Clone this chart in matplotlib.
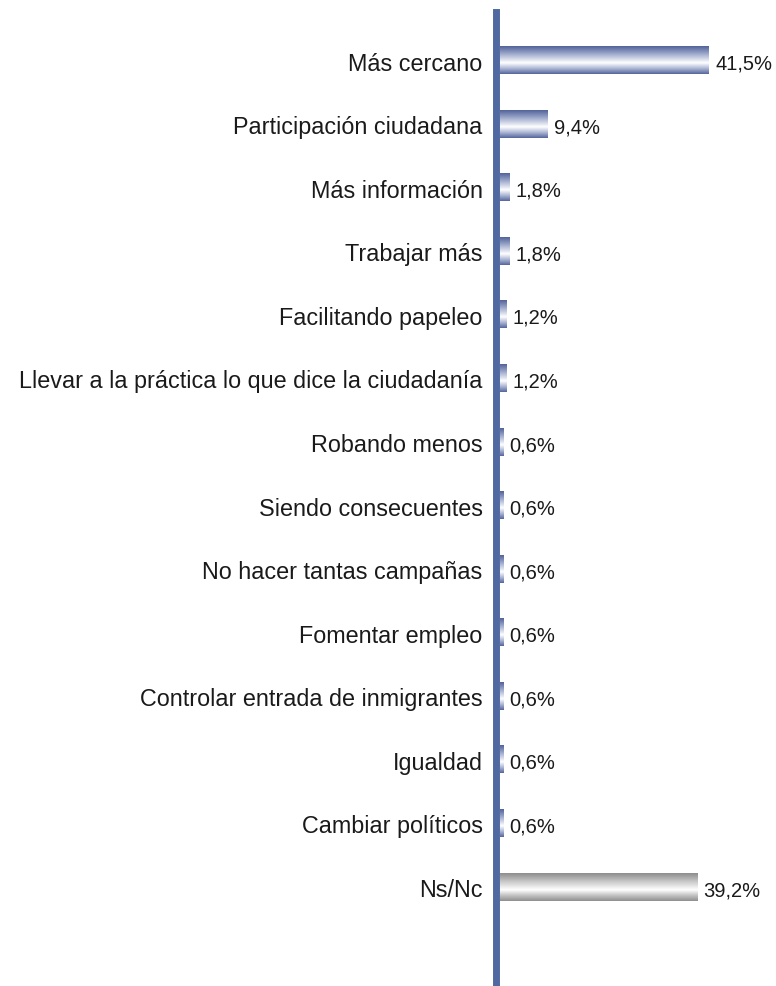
import matplotlib.pyplot as plt
import matplotlib.colors as mcolors
import numpy as np

plt.rcParams['font.family'] = ['Liberation Sans', 'DejaVu Sans']

# Chart data
categories = [
    "Más cercano",
    "Participación ciudadana",
    "Más información",
    "Trabajar más",
    "Facilitando papeleo",
    "Llevar a la práctica lo que dice la ciudadanía",
    "Robando menos",
    "Siendo consecuentes",
    "No hacer tantas campañas",
    "Fomentar empleo",
    "Controlar entrada de inmigrantes",
    "Igualdad",
    "Cambiar políticos",
    "Ns/Nc",
]
values = [41.5, 9.4, 1.8, 1.8, 1.2, 1.2, 0.6, 0.6, 0.6, 0.6, 0.6, 0.6, 0.6, 39.2]
value_labels = ["41,5%", "9,4%", "1,8%", "1,8%", "1,2%", "1,2%", "0,6%", "0,6%",
                "0,6%", "0,6%", "0,6%", "0,6%", "0,6%", "39,2%"]

W, H = 776, 987
fig = plt.figure(figsize=(W / 100, H / 100), dpi=100)

# axes: left edge on the vertical axis line, running down to the bottom
ax_left = 496.5
ax = fig.add_axes([ax_left / W, 0, 1 - ax_left / W, 1 - 12.7 / H])

y = np.arange(len(categories))
bars = ax.barh(y, values, height=0.425, color="none", edgecolor="none")

# gradient colormaps: dark edges, light band just below the middle
blue_cmap = mcolors.LinearSegmentedColormap.from_list(
    "blue_grad", [(0, "#53649a"), (0.3, "#a5b0d0"), (0.6, "#ffffff"),
                  (0.8, "#aeb8d6"), (1, "#56679c")])
gray_cmap = mcolors.LinearSegmentedColormap.from_list(
    "gray_grad", [(0, "#8e8e8e"), (0.3, "#c8c8c8"), (0.6, "#ffffff"),
                  (0.8, "#c4c4c4"), (1, "#909090")])
grad = np.linspace(0, 1, 64).reshape(-1, 1)

for i, bar in enumerate(bars):
    x0, yb = bar.get_x(), bar.get_y()
    w, h = bar.get_width(), bar.get_height()
    cmap = gray_cmap if categories[i] == "Ns/Nc" else blue_cmap
    ax.imshow(grad, aspect="auto", cmap=cmap, origin="upper",
              extent=(x0, x0 + w, yb + h, yb), zorder=4, interpolation="bilinear")
    ax.text(w + 1.3, y[i] + 0.04, value_labels[i], va="center", ha="left",
            fontsize=14.5, color="#1a1a1a")

ax.set_xlim(-0.693, 54.9)
ax.set_ylim(14.556, -0.768)

ax.set_yticks(y)
ax.set_yticklabels(categories, fontsize=16.8, color="#1a1a1a")
ax.tick_params(axis="y", length=0, pad=10)
ax.set_xticks([])

for side in ["top", "right", "bottom"]:
    ax.spines[side].set_visible(False)
ax.spines["left"].set_color("#5069a0")
ax.spines["left"].set_linewidth(5)
ax.spines["left"].set_zorder(3)

fig.savefig("out.png", dpi=100)
